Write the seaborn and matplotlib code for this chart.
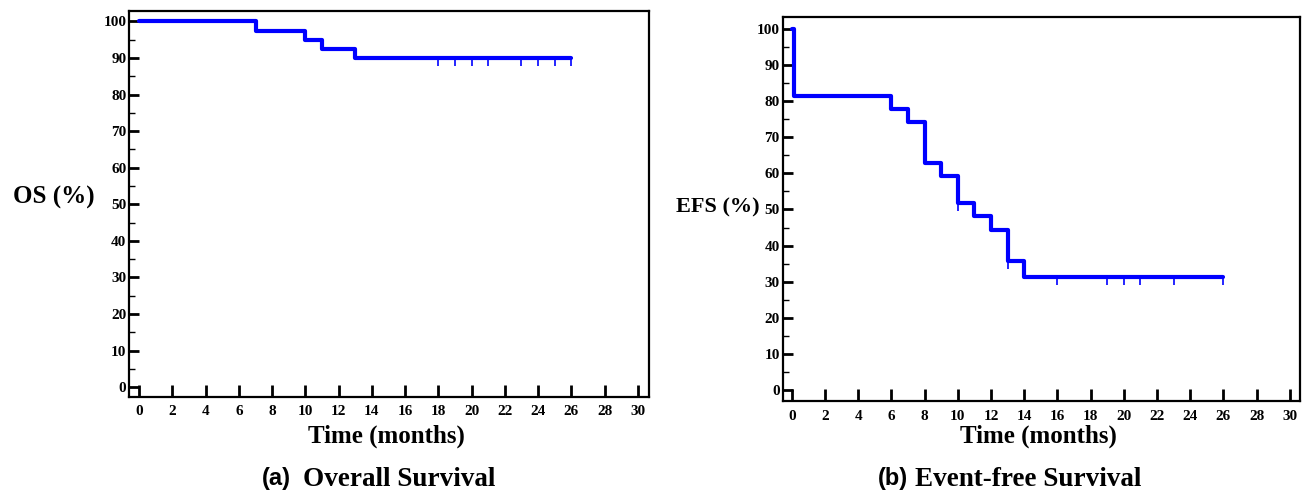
import numpy as np
import matplotlib
matplotlib.use('Agg')
import matplotlib.pyplot as plt
import seaborn as sns

# overall survival (%), step values at event times
os_time = [0, 7, 10, 11, 13, 26]
os_surv = [100, 97.5, 95, 92.5, 90, 90]
os_censor = [18, 19, 20, 21, 23, 24, 25, 26]

# event-free survival (%)
efs_time = [0, 0.1, 6, 7, 8, 9, 10, 11, 12, 13, 14, 26]
efs_surv = [100, 81.5, 77.8, 74.1, 63.0, 59.3, 51.9, 48.1, 44.2, 35.8, 31.3, 31.3]
efs_censor = [10, 13, 16, 19, 20, 21, 23, 26]

x_ticks = list(range(0, 31, 2))
y_ticks = list(range(0, 101, 10))
y_minor = list(range(5, 100, 10))

sns.set_style('ticks')
plt.rcParams['font.family'] = ['Liberation Serif', 'DejaVu Serif']
plt.rcParams['font.weight'] = 'bold'
plt.rcParams['text.color'] = 'black'
plt.rcParams['xtick.color'] = 'black'
plt.rcParams['ytick.color'] = 'black'
plt.rcParams['xtick.labelcolor'] = 'black'
plt.rcParams['ytick.labelcolor'] = 'black'

fig = plt.figure(figsize=(13.07, 4.92), dpi=100)
ax1 = fig.add_axes([0.0989, 0.193, 0.3976, 0.785])
ax2 = fig.add_axes([0.5988, 0.1846, 0.3956, 0.780])


def km_panel(ax, t, s, cens, xlim, ylim):
    sns.lineplot(x=t, y=s, ax=ax, drawstyle='steps-post', color='#0000ff',
                 lw=3, estimator=None, sort=False)
    # censor marks hang below the curve
    idx = np.searchsorted(t, cens, side='right') - 1
    lev = np.array(s)[idx]
    ax.vlines(cens, lev - 2.2, lev, color='#0000ff', lw=1.2)
    ax.set_xlim(*xlim)
    ax.set_ylim(*ylim)
    ax.set_xticks(x_ticks)
    ax.set_yticks(y_ticks)
    ax.set_yticks(y_minor, minor=True)
    ax.tick_params(axis='y', which='major', direction='in', length=7, width=2,
                   labelsize=11, pad=2, left=True, right=False)
    ax.tick_params(axis='y', which='minor', direction='in', length=4, width=1,
                   left=True, right=False)
    ax.tick_params(axis='x', which='major', direction='in', length=9, width=2,
                   labelsize=11, pad=6, bottom=True, top=False)
    for sp in ax.spines.values():
        sp.set_visible(True)
        sp.set_color('black')
        sp.set_linewidth(1.6)
    ax.set_xlabel('')
    ax.set_ylabel('')


km_panel(ax1, os_time, os_surv, os_censor, (-0.6, 30.67), (-2.7, 102.9))
km_panel(ax2, efs_time, efs_surv, efs_censor, (-0.56, 30.6), (-3.1, 103.2))

fig.text(54 / 1307, 1 - 197 / 492, 'OS (%)', ha='center', va='center', fontsize=18)
fig.text(718 / 1307, 1 - 207 / 492, 'EFS (%)', ha='center', va='center', fontsize=16)
fig.text(386 / 1307, 1 - 436 / 492, 'Time (months)', ha='center', va='center', fontsize=18)
fig.text(1038 / 1307, 1 - 436 / 492, 'Time (months)', ha='center', va='center', fontsize=18)

fig.text(291 / 1307, 1 - 479 / 492, '(a)', ha='right', va='center', fontsize=17,
         family='Liberation Sans')
fig.text(303 / 1307, 1 - 479 / 492, 'Overall Survival', ha='left', va='center', fontsize=19.5)
fig.text(908 / 1307, 1 - 479 / 492, '(b)', ha='right', va='center', fontsize=17,
         family='Liberation Sans')
fig.text(915 / 1307, 1 - 479 / 492, 'Event-free Survival', ha='left', va='center', fontsize=19.5)

fig.savefig('out.png', dpi=100)
